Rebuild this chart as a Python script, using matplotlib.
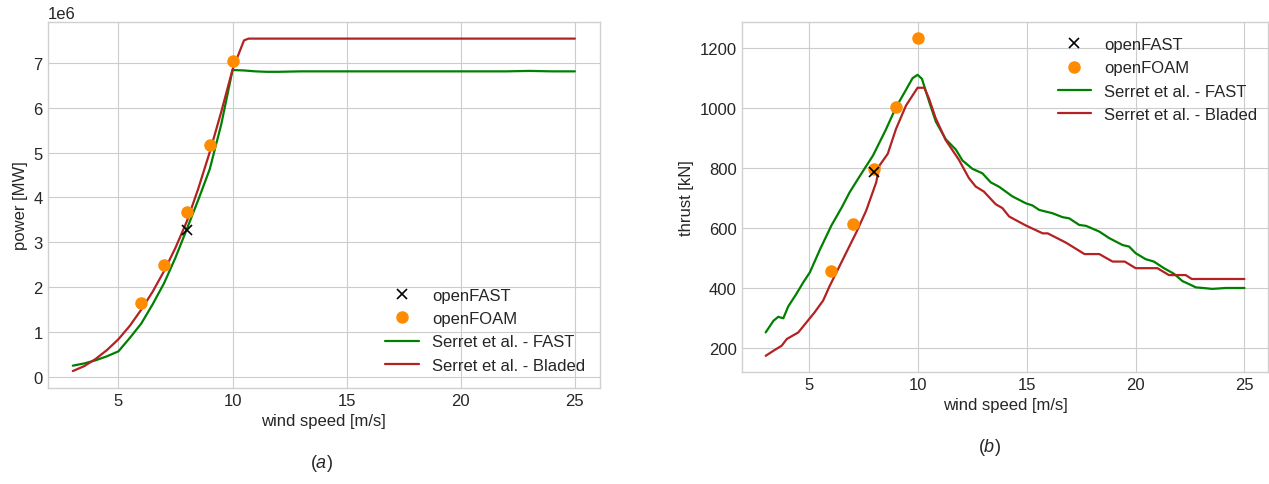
import numpy as np
import matplotlib
matplotlib.use("Agg")
import matplotlib.pyplot as plt

# Datos: curvas de potencia y empuje
# openFAST (un solo punto) y openFOAM
ws_ofast = [8.0]
p_ofast = [3.28]          # MW
t_ofast = [787]           # kN

ws_ofoam = [6, 7, 8, 9, 10]
p_ofoam = [1.65, 2.50, 3.67, 5.17, 7.04]   # MW
t_ofoam = [459, 614, 798, 1004, 1234]      # kN

# Serret et al. - FAST (potencia)
ws_fast_p = [3, 3.5, 4, 4.5, 5, 5.5, 6, 6.5, 7, 7.5, 8, 8.5, 9, 9.5, 10,
             10.5, 11, 11.5, 12, 13, 14, 15, 16, 17, 18, 19, 20, 21, 22, 23, 24, 25]
p_fast = [0.25, 0.30, 0.37, 0.46, 0.57, 0.87, 1.19, 1.62, 2.09, 2.66, 3.30, 3.95, 4.63, 5.62, 6.84,
          6.83, 6.81, 6.80, 6.80, 6.81, 6.81, 6.81, 6.81, 6.81, 6.81, 6.81, 6.81, 6.81, 6.81, 6.82, 6.81, 6.81]

# Serret et al. - Bladed (potencia)
ws_bl_p = [3, 3.5, 4, 4.5, 5, 5.5, 6, 6.5, 7, 7.5, 8, 8.5, 9, 9.5, 10, 10.5, 10.7, 12, 15, 20, 25]
p_bl = [0.13, 0.24, 0.40, 0.60, 0.84, 1.14, 1.50, 1.90, 2.36, 2.88, 3.47, 4.20, 5.01, 5.90, 6.85,
        7.50, 7.54, 7.54, 7.54, 7.54, 7.54]

# Serret et al. - FAST (empuje)
ws_fast_t = [3.0, 3.36, 3.58, 3.81, 4.04, 4.4, 4.73, 5.03, 5.5, 6.02, 6.5, 6.86, 7.24, 7.6, 7.93,
             8.5, 8.99, 9.4, 9.75, 9.98, 10.18, 10.52, 10.82, 11.28, 11.74, 12.04, 12.5, 12.96,
             13.34, 13.73, 14.34, 14.96, 15.26, 15.57, 16.18, 16.64, 16.95, 17.41, 17.72, 18.33,
             18.79, 19.4, 19.7, 20.0, 20.46, 20.84, 21.3, 21.77, 22.15, 22.54, 22.77, 23.1, 23.52,
             24.14, 25.0]
t_fast = [253, 292, 305, 300, 340, 380, 420, 453, 530, 609, 670, 720, 764, 805, 842,
          925, 1003, 1055, 1100, 1111, 1098, 1020, 955, 896, 862, 826, 798, 783,
          753, 738, 706, 683, 676, 661, 650, 637, 633, 611, 608, 589,
          567, 544, 539, 517, 497, 489, 467, 448, 424, 411, 403, 401, 398,
          401, 401]

# Serret et al. - Bladed (empuje)
ws_bl_t = [3.0, 3.36, 3.74, 3.97, 4.5, 4.88, 5.25, 5.64, 5.95, 6.3, 6.71, 7.17, 7.62, 8.08, 8.23,
           8.61, 8.99, 9.45, 9.98, 10.29, 10.5, 10.81, 11.27, 11.88, 12.34, 12.65, 13.03, 13.57,
           13.88, 14.19, 14.96, 15.73, 15.96, 16.8, 17.65, 18.33, 18.94, 19.5, 20.0, 21.0, 21.53,
           22.3, 22.58, 25.0]
t_bl = [175, 192, 209, 231, 253, 287, 320, 359, 409, 460, 520, 587, 659, 753, 809,
        848, 931, 1009, 1068, 1068, 1033, 967, 894, 828, 767, 739, 722, 680,
        667, 639, 609, 583, 583, 552, 514, 514, 489, 489, 467, 467, 444,
        444, 431, 431]

# Estilo
plt.style.use('seaborn-v0_8-whitegrid')
plt.rcParams['font.family'] = ['Liberation Sans', 'DejaVu Sans']
plt.rcParams['mathtext.fontset'] = 'custom'
plt.rcParams['mathtext.rm'] = 'Liberation Sans'
plt.rcParams['mathtext.it'] = 'Liberation Sans:italic'
plt.rcParams['font.size'] = 12
plt.rcParams['axes.labelsize'] = 12
plt.rcParams['xtick.labelsize'] = 12
plt.rcParams['ytick.labelsize'] = 12
plt.rcParams['legend.fontsize'] = 12
plt.rcParams['axes.edgecolor'] = '#d0d0d0'


def dibujar(ax, ws_f, y_f, ws_b, y_b, y_ofast, y_ofoam, factor=1.0):
	ax.plot(ws_f, np.array(y_f) * factor, color='green', lw=1.6, label='Serret et al. - FAST')
	ax.plot(ws_b, np.array(y_b) * factor, color='firebrick', lw=1.6, label='Serret et al. - Bladed')
	ax.plot(ws_ofoam, np.array(y_ofoam) * factor, 'o', color='darkorange', ms=8,
	        label='openFOAM', zorder=3)
	ax.plot(ws_ofast, np.array(y_ofast) * factor, 'x', color='black', ms=7, mew=1.2,
	        label='openFAST', zorder=4)
	handles, labels = ax.get_legend_handles_labels()
	orden = [3, 2, 0, 1]
	return [handles[i] for i in orden], [labels[i] for i in orden]


fig = plt.figure(figsize=(12.69, 4.85), dpi=100)

# (a) potencia
ax1 = fig.add_axes([0.0376, 0.1986, 0.4352, 0.754])
h, l = dibujar(ax1, ws_fast_p, p_fast, ws_bl_p, p_bl, p_ofast, p_ofoam, factor=1e6)
ax1.set_xlabel('wind speed [m/s]')
ax1.set_ylabel('power [MW]')
ax1.set_xticks([5, 10, 15, 20, 25])
ax1.legend(h, l, loc='lower right', frameon=False, bbox_to_anchor=(1.0, 0.0))
fig.text(0.253, 0.035, '$(a)$', ha='center', fontsize=13)

# (b) empuje
ax2 = fig.add_axes([0.5845, 0.2315, 0.415, 0.721])
h, l = dibujar(ax2, ws_fast_t, t_fast, ws_bl_t, t_bl, t_ofast, t_ofoam)
ax2.set_xlabel('wind speed [m/s]')
ax2.set_ylabel('thrust [kN]')
ax2.set_xticks([5, 10, 15, 20, 25])
ax2.legend(h, l, loc='upper right', frameon=False, bbox_to_anchor=(1.008, 1.0))
fig.text(0.780, 0.068, '$(b)$', ha='center', fontsize=13)

fig.savefig('out.png', dpi=100)
